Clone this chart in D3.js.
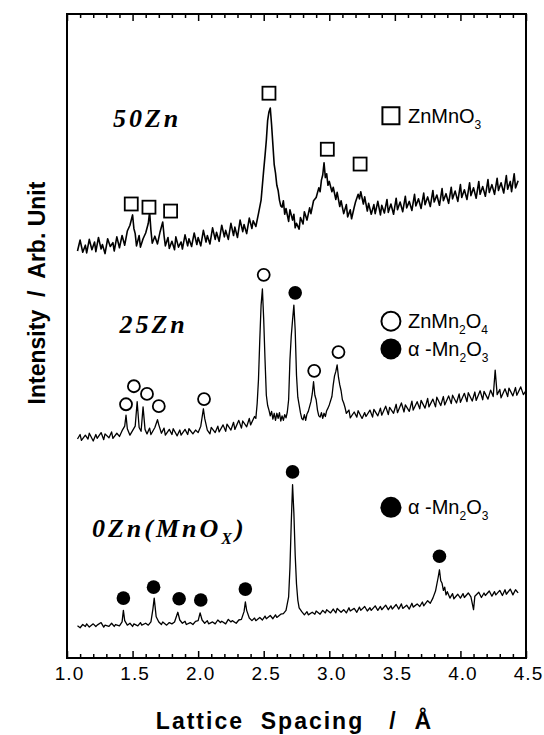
<!DOCTYPE html>
<html>
<head>
<meta charset="utf-8">
<script src="https://cdn.jsdelivr.net/npm/d3@7"></script>
<style>
body { margin: 0; background: #fff; }
</style>
</head>
<body>
<div id="chart-area"></div>
<script>
/*
*    XRD patterns, ZnMnOx samples
*/

var width = 544;
var height = 735;
var margin = {left: 67, right: 18, top: 14, bottom: 77};
var chartWidth = width - margin.left - margin.right;
var chartHeight = height - margin.top - margin.bottom;

// tick labels of the lattice spacing axis
var xTicks = [1.0, 1.5, 2.0, 2.5, 3.0, 3.5, 4.0, 4.5];

// patterns, [d-spacing (A), intensity (arb.)]
var trace0Zn = [[1.08,5.0],[1.10,4.7],[1.12,5.2],[1.14,4.9],[1.15,5.3],[1.17,4.8],[1.20,5.3],[1.22,4.9],[1.23,5.1],[1.26,5.5],[1.28,4.8],[1.29,5.1],[1.32,4.9],[1.34,5.4],[1.36,4.9],[1.37,5.2],[1.40,5.0],[1.42,5.6],[1.43,7.4],[1.44,5.8],[1.46,5.1],[1.48,5.4],[1.50,4.9],[1.51,5.3],[1.54,5.0],[1.56,5.5],[1.57,5.1],[1.60,5.4],[1.62,5.1],[1.64,5.6],[1.655,7.6],[1.665,9.3],[1.68,6.4],[1.70,5.6],[1.72,5.2],[1.73,5.6],[1.76,5.1],[1.78,5.5],[1.80,5.3],[1.82,5.6],[1.845,7.1],[1.86,5.9],[1.88,5.4],[1.90,5.7],[1.91,5.2],[1.94,5.5],[1.96,5.2],[1.98,5.7],[2.00,5.8],[2.015,7.0],[2.03,5.9],[2.05,5.4],[2.07,5.8],[2.08,5.3],[2.11,5.6],[2.13,5.3],[2.15,5.9],[2.17,5.5],[2.18,5.7],[2.21,5.3],[2.23,6.0],[2.25,5.6],[2.26,5.8],[2.29,5.4],[2.31,5.9],[2.33,6.0],[2.35,7.2],[2.36,8.7],[2.37,7.4],[2.39,6.2],[2.41,5.8],[2.43,6.2],[2.44,5.8],[2.47,6.3],[2.49,5.9],[2.51,6.5],[2.52,6.1],[2.55,6.6],[2.57,6.1],[2.59,6.7],[2.60,6.3],[2.63,6.8],[2.65,6.9],[2.67,7.4],[2.69,9.5],[2.70,14.0],[2.71,21.0],[2.72,26.9],[2.73,22.5],[2.74,16.0],[2.75,11.5],[2.76,9.0],[2.77,7.8],[2.79,7.2],[2.81,6.7],[2.83,7.2],[2.84,6.7],[2.87,7.1],[2.89,6.8],[2.90,7.3],[2.93,6.8],[2.95,7.4],[2.97,7.0],[2.98,7.5],[3.01,7.0],[3.03,7.6],[3.05,7.0],[3.06,7.7],[3.09,7.1],[3.11,7.5],[3.13,7.0],[3.15,7.8],[3.16,7.3],[3.19,7.7],[3.21,7.1],[3.23,7.9],[3.24,7.4],[3.27,8.0],[3.29,7.3],[3.31,7.8],[3.32,7.4],[3.35,8.1],[3.37,7.4],[3.39,8.0],[3.40,7.5],[3.43,8.2],[3.45,7.5],[3.47,8.1],[3.48,7.6],[3.51,8.3],[3.53,7.6],[3.55,8.4],[3.56,7.7],[3.59,8.2],[3.61,7.6],[3.63,8.5],[3.64,7.9],[3.67,8.4],[3.69,8.0],[3.71,8.7],[3.72,8.1],[3.75,8.9],[3.77,8.5],[3.79,9.3],[3.81,10.4],[3.83,12.5],[3.84,13.7],[3.85,12.0],[3.86,11.6],[3.87,10.5],[3.88,11.0],[3.89,9.8],[3.90,10.3],[3.92,9.3],[3.94,10.0],[3.95,9.2],[3.98,9.9],[4.00,9.3],[4.02,10.0],[4.03,9.4],[4.06,10.1],[4.08,9.5],[4.10,7.5],[4.11,9.6],[4.14,10.2],[4.16,9.4],[4.18,10.1],[4.19,9.7],[4.22,10.4],[4.24,9.6],[4.26,10.3],[4.27,9.8],[4.30,10.5],[4.32,9.7],[4.34,10.6],[4.35,9.9],[4.38,10.7],[4.40,9.8],[4.42,10.6],[4.44,10.1]];

var trace25Zn = [[1.08,34.0],[1.10,34.7],[1.11,33.8],[1.14,34.6],[1.16,34.0],[1.17,34.9],[1.20,33.7],[1.22,34.7],[1.23,34.1],[1.26,35.0],[1.28,33.9],[1.29,34.8],[1.32,34.2],[1.34,35.1],[1.35,34.1],[1.38,34.9],[1.40,34.4],[1.42,35.3],[1.44,36.0],[1.45,37.7],[1.46,35.6],[1.48,34.6],[1.50,35.3],[1.52,36.0],[1.535,39.8],[1.55,35.8],[1.565,35.2],[1.58,39.0],[1.595,35.5],[1.61,34.8],[1.63,35.7],[1.64,34.7],[1.67,35.8],[1.69,37.0],[1.70,36.2],[1.72,34.9],[1.74,35.7],[1.75,34.6],[1.78,35.5],[1.80,34.7],[1.81,35.6],[1.84,34.5],[1.86,35.4],[1.87,34.6],[1.90,35.5],[1.92,34.7],[1.93,35.6],[1.96,34.8],[1.98,35.4],[2.00,35.0],[2.02,36.0],[2.04,38.7],[2.05,37.2],[2.07,35.4],[2.09,34.8],[2.10,35.8],[2.13,35.0],[2.15,36.0],[2.16,35.1],[2.19,36.2],[2.21,35.2],[2.22,36.3],[2.25,35.4],[2.27,36.6],[2.28,35.5],[2.31,36.9],[2.33,35.7],[2.34,36.8],[2.37,35.9],[2.39,37.2],[2.40,36.2],[2.43,37.5],[2.44,37.2],[2.45,39.5],[2.46,43.2],[2.47,49.4],[2.48,54.8],[2.49,57.3],[2.50,52.5],[2.51,46.3],[2.52,40.8],[2.53,39.2],[2.54,38.5],[2.55,37.6],[2.56,38.3],[2.57,37.1],[2.58,38.0],[2.59,36.9],[2.60,38.0],[2.61,37.2],[2.62,38.1],[2.63,36.8],[2.64,37.6],[2.65,36.9],[2.66,37.8],[2.67,37.3],[2.68,38.2],[2.69,40.1],[2.70,46.3],[2.71,50.0],[2.72,52.5],[2.73,54.8],[2.74,50.9],[2.75,43.9],[2.76,40.5],[2.77,39.3],[2.78,38.1],[2.79,37.2],[2.80,37.0],[2.81,37.8],[2.82,36.9],[2.83,37.9],[2.84,38.3],[2.86,39.8],[2.87,41.0],[2.88,42.9],[2.89,40.8],[2.90,40.1],[2.91,38.5],[2.92,37.6],[2.93,37.4],[2.94,38.1],[2.95,37.2],[2.96,38.0],[2.97,37.5],[2.98,38.4],[2.99,38.8],[3.00,39.3],[3.02,40.6],[3.03,42.4],[3.04,43.8],[3.05,44.5],[3.06,45.5],[3.07,43.6],[3.08,42.4],[3.09,41.5],[3.10,40.1],[3.11,39.6],[3.12,38.9],[3.13,38.0],[3.15,38.5],[3.16,37.3],[3.19,38.2],[3.21,37.4],[3.22,38.4],[3.25,37.2],[3.27,38.1],[3.28,37.5],[3.31,38.5],[3.33,37.4],[3.34,38.6],[3.37,37.6],[3.39,38.8],[3.40,37.7],[3.43,39.1],[3.45,37.8],[3.46,38.9],[3.49,38.0],[3.51,39.4],[3.52,38.1],[3.55,39.6],[3.57,38.2],[3.58,39.3],[3.61,38.3],[3.63,39.9],[3.64,38.5],[3.67,39.8],[3.69,38.7],[3.70,40.0],[3.73,38.8],[3.75,40.3],[3.76,39.0],[3.79,40.2],[3.81,39.0],[3.82,40.5],[3.85,39.2],[3.87,40.6],[3.88,39.3],[3.91,40.7],[3.93,39.5],[3.94,40.8],[3.97,39.6],[3.99,41.0],[4.00,39.7],[4.03,41.1],[4.05,39.8],[4.06,41.2],[4.09,39.9],[4.11,41.3],[4.12,40.0],[4.15,41.5],[4.17,40.1],[4.18,41.4],[4.21,40.2],[4.23,41.6],[4.25,40.6],[4.265,44.7],[4.28,40.9],[4.30,41.7],[4.31,40.4],[4.34,41.8],[4.36,40.6],[4.37,41.9],[4.40,40.7],[4.42,42.0],[4.43,40.8],[4.46,42.1],[4.48,40.9],[4.50,41.5]];

var trace50Zn = [[1.08,63.2],[1.10,64.9],[1.12,63.0],[1.14,64.1],[1.15,62.9],[1.17,65.0],[1.19,63.4],[1.21,64.6],[1.22,63.1],[1.24,65.3],[1.26,63.5],[1.27,64.2],[1.29,62.8],[1.31,65.1],[1.33,63.9],[1.35,64.5],[1.36,63.2],[1.38,65.4],[1.40,63.7],[1.42,65.6],[1.44,64.1],[1.46,66.3],[1.48,67.2],[1.50,68.8],[1.51,66.7],[1.52,65.9],[1.53,64.0],[1.55,65.6],[1.56,63.8],[1.58,65.1],[1.60,66.0],[1.62,67.5],[1.63,69.3],[1.64,66.4],[1.65,64.4],[1.67,65.5],[1.69,64.3],[1.71,66.2],[1.73,67.7],[1.74,65.6],[1.75,64.0],[1.77,65.3],[1.78,63.6],[1.80,64.7],[1.82,63.4],[1.83,65.4],[1.85,63.8],[1.87,64.6],[1.88,63.5],[1.90,65.7],[1.92,64.0],[1.93,65.1],[1.95,63.9],[1.97,66.0],[1.99,64.2],[2.00,65.3],[2.02,64.0],[2.04,66.4],[2.06,64.6],[2.07,65.6],[2.09,64.3],[2.11,66.8],[2.13,65.0],[2.14,66.1],[2.16,64.7],[2.18,67.2],[2.20,65.4],[2.21,66.4],[2.23,65.0],[2.25,67.5],[2.27,65.6],[2.28,66.9],[2.30,65.3],[2.32,68.0],[2.34,66.2],[2.35,67.3],[2.37,65.9],[2.39,68.3],[2.41,66.7],[2.42,67.9],[2.44,67.0],[2.46,69.0],[2.48,71.1],[2.50,75.8],[2.51,78.0],[2.52,80.4],[2.53,83.5],[2.54,84.8],[2.55,85.4],[2.56,82.8],[2.57,79.7],[2.58,76.6],[2.59,75.3],[2.60,73.4],[2.61,72.6],[2.62,71.1],[2.63,70.2],[2.64,70.0],[2.65,71.0],[2.66,68.9],[2.67,69.8],[2.69,67.8],[2.70,69.6],[2.72,68.0],[2.73,68.9],[2.74,66.8],[2.75,67.5],[2.77,66.6],[2.78,68.4],[2.80,67.4],[2.81,69.3],[2.83,68.0],[2.85,69.9],[2.86,69.0],[2.88,71.0],[2.90,71.5],[2.92,73.0],[2.93,72.4],[2.94,74.2],[2.95,75.0],[2.96,76.9],[2.97,74.6],[2.98,75.2],[2.99,73.4],[3.00,74.0],[3.02,72.4],[3.03,73.1],[3.05,71.2],[3.06,72.3],[3.08,70.1],[3.09,71.0],[3.11,69.0],[3.13,70.4],[3.14,68.5],[3.16,69.6],[3.17,68.2],[3.19,70.0],[3.20,70.8],[3.22,72.0],[3.23,71.3],[3.24,72.4],[3.26,70.5],[3.27,71.6],[3.29,69.4],[3.30,70.6],[3.32,68.9],[3.34,70.4],[3.35,69.0],[3.37,70.9],[3.39,68.8],[3.40,70.3],[3.42,69.1],[3.44,71.2],[3.45,69.2],[3.47,70.5],[3.49,68.9],[3.51,71.4],[3.52,69.6],[3.54,70.8],[3.56,69.3],[3.58,71.7],[3.59,69.9],[3.61,70.9],[3.63,69.5],[3.65,72.0],[3.66,70.2],[3.68,71.3],[3.70,69.8],[3.72,72.2],[3.73,70.4],[3.75,71.6],[3.77,70.1],[3.79,72.6],[3.80,70.8],[3.82,71.9],[3.84,70.3],[3.86,72.9],[3.87,71.0],[3.89,72.1],[3.91,70.6],[3.93,73.1],[3.94,71.3],[3.96,72.5],[3.98,70.9],[4.00,73.5],[4.01,71.5],[4.03,72.7],[4.05,71.2],[4.07,73.8],[4.08,71.8],[4.10,73.0],[4.12,71.4],[4.14,74.0],[4.15,72.0],[4.17,73.2],[4.19,71.7],[4.21,74.3],[4.22,72.3],[4.24,73.5],[4.26,72.0],[4.28,74.5],[4.29,72.6],[4.31,73.8],[4.33,72.2],[4.35,74.9],[4.36,72.8],[4.38,74.0],[4.39,72.4],[4.41,75.2],[4.42,73.0],[4.44,74.1]];

// phase markers above the reflections
var squares50Zn = [[1.49,70.5],[1.625,70.0],[1.79,69.4],[2.54,87.7],[2.985,79.0],[3.235,76.7]];
var openCircles25Zn = [[1.45,39.4],[1.51,42.2],[1.61,41.0],[1.70,39.1],[2.045,40.2],[2.50,59.5],[2.885,44.6],[3.07,47.5]];
var dots25Zn = [[2.74,56.7]];
var dots0Zn = [[1.43,9.3],[1.66,11.0],[1.855,9.2],[2.02,9.0],[2.36,10.7],[2.72,28.9],[3.84,15.8]];

// sample names, [text, subscript?]
var sampleNames = [
    {parts: [["50Zn", false]], d: 1.35, I: 82.5},
    {parts: [["25Zn", false]], d: 1.40, I: 50.5},
    {parts: [["0Zn(MnO", false], ["X", true], [")", false]], d: 1.19, I: 18.8}
];

// phase legend entries
var legendItems = [
    {shape: "square", parts: [["ZnMnO", false], ["3", true]], d: 3.47, I: 84.2},
    {shape: "open", parts: [["ZnMn", false], ["2", true], ["O", false], ["4", true]], d: 3.47, I: 52.3},
    {shape: "dot", parts: [["\u03B1 -Mn", false], ["2", true], ["O", false], ["3", true]], d: 3.47, I: 48.0},
    {shape: "dot", parts: [["\u03B1 -Mn", false], ["2", true], ["O", false], ["3", true]], d: 3.47, I: 23.4}
];

var svg = d3.select("#chart-area").append("svg").attr("width", width).attr("height", height)
    .style("font-family", "'Liberation Sans', Arial, sans-serif");
var graph = svg.append("g").attr("transform", "translate(" + margin.left + ", " + margin.top + ")");

var x = d3.scaleLinear().domain([1.0, 4.5]).range([0, chartWidth]);
var y = d3.scaleLinear().domain([0, 100]).range([chartHeight, 0]);

// frame
graph.append("rect").attr("width", chartWidth).attr("height", chartHeight)
    .attr("fill", "none").attr("stroke", "black").attr("stroke-width", 2);

// inward ticks, bottom and top
var minorTicks = d3.range(1.1, 4.45, 0.1).filter((v) => { return Math.abs(v * 2 - Math.round(v * 2)) > 0.01; });

var xAxisMajor = d3.axisBottom(x).tickValues(xTicks).tickSize(-7).tickPadding(9).tickFormat(d3.format(".1f"));
var xAxisMinor = d3.axisBottom(x).tickValues(minorTicks).tickSize(-4).tickFormat("");
var topMajor = d3.axisTop(x).tickValues(xTicks).tickSize(-7).tickFormat("");
var topMinor = d3.axisTop(x).tickValues(minorTicks).tickSize(-4).tickFormat("");

var bottomG = graph.append("g").attr("transform", "translate(0, " + chartHeight + ")");
bottomG.append("g").call(xAxisMinor);
bottomG.append("g").call(xAxisMajor);
var topG = graph.append("g");
topG.append("g").call(topMinor);
topG.append("g").call(topMajor);

graph.selectAll(".domain").remove();
graph.selectAll(".tick line").attr("stroke", "black").attr("stroke-width", 1.5);
bottomG.selectAll(".tick text").attr("font-size", "19px").attr("fill", "black").attr("dx", "2")
    .attr("letter-spacing", "1px")
    .attr("font-family", "'Liberation Sans', Arial, sans-serif");

// axis titles
svg.append("text").attr("x", margin.left + chartWidth / 2 - 2).attr("y", 729)
    .attr("text-anchor", "middle").attr("font-size", "23px").attr("font-weight", "bold")
    .attr("letter-spacing", "2px").style("white-space", "pre").text("Lattice  Spacing   /  \u00C5");

svg.append("text").attr("transform", "translate(45, " + 293 + ") rotate(-90)")
    .attr("text-anchor", "middle").attr("font-size", "23px").attr("font-weight", "bold")
    .style("white-space", "pre").text("Intensity  /  Arb. Unit");

// traces
var line = d3.line().x((d) => { return x(d[0]); }).y((d) => { return y(d[1]); });
[trace0Zn, trace25Zn, trace50Zn].forEach((t, i) => {
    graph.append("path").datum(t).attr("d", line).attr("fill", "none")
        .attr("stroke", "black").attr("stroke-width", i == 2 ? 1.6 : 1.3).attr("stroke-linejoin", "round");
});

// markers
graph.selectAll(".sq").data(squares50Zn).enter().append("rect").attr("class", "sq")
    .attr("x", (d) => { return x(d[0]) - 6.5; }).attr("y", (d) => { return y(d[1]) - 6.5; })
    .attr("width", 13).attr("height", 13).attr("fill", "white").attr("stroke", "black").attr("stroke-width", 1.8);

graph.selectAll(".oc").data(openCircles25Zn).enter().append("circle").attr("class", "oc")
    .attr("cx", (d) => { return x(d[0]); }).attr("cy", (d) => { return y(d[1]); })
    .attr("r", 6).attr("fill", "white").attr("stroke", "black").attr("stroke-width", 1.8);

graph.selectAll(".dot").data(dots25Zn.concat(dots0Zn)).enter().append("circle").attr("class", "dot")
    .attr("cx", (d) => { return x(d[0]); }).attr("cy", (d) => { return y(d[1]); })
    .attr("r", 6.8).attr("fill", "black");

function writeParts(textSel, parts, subSize, subDy) {
    var shifted = false;
    parts.forEach((p) => {
        var ts = textSel.append("tspan").text(p[0]);
        if (p[1] && !shifted) { ts.attr("font-size", subSize).attr("dy", subDy); shifted = true; }
        else if (!p[1] && shifted) { ts.attr("dy", -subDy); shifted = false; }
    });
}

// sample names
sampleNames.forEach((s) => {
    var t = graph.append("text").attr("x", x(s.d)).attr("y", y(s.I))
        .attr("font-family", "'Liberation Serif', 'Times New Roman', serif")
        .attr("font-weight", "bold").attr("font-style", "italic").attr("font-size", "26px")
        .attr("letter-spacing", "3px").style("white-space", "pre");
    writeParts(t, s.parts, "16px", 7);
});

// legend
legendItems.forEach((l) => {
    var cx = x(l.d), cy = y(l.I);
    if (l.shape == "square") {
        graph.append("rect").attr("x", cx - 8.5).attr("y", cy - 8.5).attr("width", 17).attr("height", 17)
            .attr("fill", "white").attr("stroke", "black").attr("stroke-width", 2);
    } else {
        graph.append("circle").attr("cx", cx).attr("cy", cy).attr("r", l.shape == "open" ? 9.5 : 10.5)
            .attr("fill", l.shape == "open" ? "white" : "black")
            .attr("stroke", "black").attr("stroke-width", l.shape == "open" ? 2 : 0);
    }
    var t = graph.append("text").attr("x", cx + 17).attr("y", cy + 7).attr("font-size", "20px")
        .style("white-space", "pre");
    writeParts(t, l.parts, "12px", 6);
});
</script>
</body>
</html>
